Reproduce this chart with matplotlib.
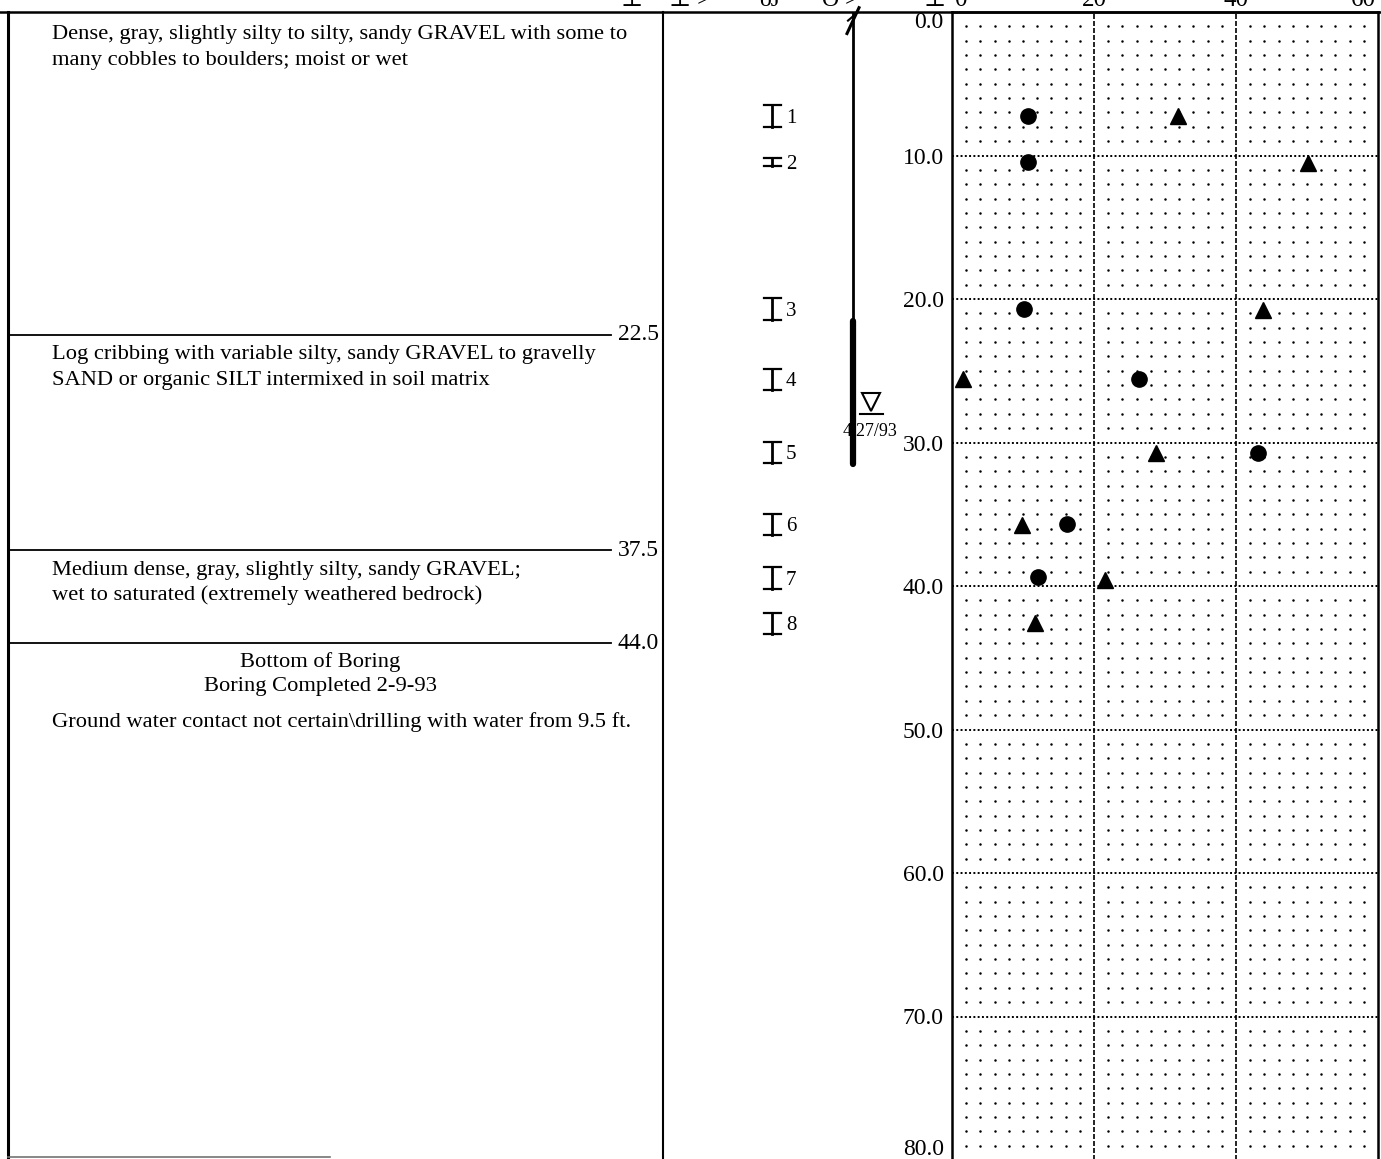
import numpy as np
import matplotlib.pyplot as plt
import matplotlib.transforms as mtransforms

# boring log data
layer_top = [0.0, 22.5, 37.5]
layer_bottom = [22.5, 37.5, 44.0]
layer_text = [
    ["Dense, gray, slightly silty to silty, sandy GRAVEL with some to",
     "many cobbles to boulders; moist or wet"],
    ["Log cribbing with variable silty, sandy GRAVEL to gravelly",
     "SAND or organic SILT intermixed in soil matrix"],
    ["Medium dense, gray, slightly silty, sandy GRAVEL;",
     "wet to saturated (extremely weathered bedrock)"],
]
boring_depth = 44.0

sample_no = [1, 2, 3, 4, 5, 6, 7, 8]
sample_depth = [7.25, 10.45, 20.7, 25.6, 30.7, 35.7, 39.45, 42.6]
sample_len = [1.5, 0.6, 1.5, 1.5, 1.5, 1.5, 1.5, 1.5]

circle_depth = [7.25, 10.45, 20.7, 25.6, 30.7, 35.7, 39.4]
circle_val = [10.7, 10.7, 10.2, 26.4, 43.1, 16.2, 12.1]
tri_depth = [7.25, 10.5, 20.8, 25.6, 30.75, 35.75, 39.6, 42.6]
tri_val = [31.8, 50.2, 43.8, 1.6, 28.7, 9.9, 21.5, 11.7]

pipe_depth = [0.0, 21.5, 31.5]
water_depth = 27.2
water_date = "4/27/93"

depth_ticks = [0, 10, 20, 30, 40, 50, 60, 70, 80]
value_ticks = [0, 20, 40, 60]

W, H = 1381, 1159
serif = ['Liberation Serif', 'DejaVu Serif']
plt.rcParams['font.family'] = serif

fig = plt.figure(figsize=(W / 100, H / 100), dpi=100)


def px(x0, y0, x1, y1):
    return [x0 / W, 1 - y1 / H, (x1 - x0) / W, (y1 - y0) / H]


ax = fig.add_axes(px(952, 12, 1378, 1160))
axl = fig.add_axes(px(0, 12, 952, 1160), sharey=ax)
axl.set_xlim(0, 952)
ax.set_xlim(0, 60)
ax.set_ylim(80, 0)
axl.axis('off')

# --- plot grid
gx, gy = np.meshgrid(np.arange(2, 60, 2), np.arange(1, 80, 1))
keep = (gx % 20 != 0) & (gy % 10 != 0)
ax.scatter(gx[keep], gy[keep], s=3.2, color='black', linewidths=0, zorder=1)
for v in value_ticks[1:-1]:
    ax.axvline(v, color='black', lw=1.2, ls=(0, (3, 1.2)), zorder=1)
for d in depth_ticks[1:-1]:
    ax.axhline(d, color='black', lw=1.4, ls=(0, (1, 1.2)), zorder=1)

ax.plot(circle_val, circle_depth, 'o', color='black', ms=11, zorder=3)
ax.plot(tri_val, tri_depth, '^', color='black', ms=11, zorder=3)

for s in ax.spines.values():
    s.set_linewidth(1.8)
ax.set_xticks([])
ax.set_yticks(depth_ticks)
ax.set_yticklabels([f"{d:.1f}" for d in depth_ticks], fontsize=17)
ax.tick_params(axis='y', length=0, pad=6)
labs = ax.get_yticklabels()
labs[0].set_va('top')
labs[-1].set_va('bottom')

# cut-off header labels
tr = mtransforms.blended_transform_factory(ax.transData, fig.transFigure)
for v in value_ticks:
    ha = 'left' if v == 0 else ('right' if v == 60 else 'center')
    off = 0.4 if v == 0 else (-0.3 if v == 60 else 0)
    ax.text(v + off, 1.0, str(v), transform=tr, ha=ha, va='center',
            fontsize=18, clip_on=False)
trf = fig.transFigure
for xp, s in [(632, "\u22a5"), (690, "\u22a5 >"), (770, "oJ"), (840, "O >"), (935, "\u22a5")]:
    fig.text(xp / W, 1.0, s, transform=trf, ha='center', va='center', fontsize=17)

# --- frame lines of the log
fig.add_artist(plt.Line2D([0, 1], [1 - 12 / H] * 2, color='black', lw=1.8))
fig.add_artist(plt.Line2D([8 / W] * 2, [0, 1 - 12 / H], color='black', lw=2.2))
fig.add_artist(plt.Line2D([663 / W] * 2, [0, 1 - 12 / H], color='black', lw=1.5))
fig.add_artist(plt.Line2D([8 / W, 330 / W], [1 - 1157 / H] * 2, color='0.45', lw=1.2))

# --- layers
for top, bot, lines in zip(layer_top, layer_bottom, layer_text):
    for i, t in enumerate(lines):
        dy = 0.2 if top == 0 else 0.0
        axl.text(52, top + 1.4 + dy + 1.75 * i, t, ha='left', va='center', fontsize=16.2)
    axl.plot([8, 611], [bot, bot], color='black', lw=1.3)
    axl.text(659, bot, f"{bot:.1f}", ha='right', va='center', fontsize=17)

axl.text(320, boring_depth + 1.3, "Bottom of Boring", ha='center', va='center', fontsize=16.2)
axl.text(320, boring_depth + 3.0, "Boring Completed 2-9-93", ha='center', va='center', fontsize=16.2)
axl.text(52, boring_depth + 5.5,
         "Ground water contact not certain\\drilling with water from 9.5 ft.",
         ha='left', va='center', fontsize=16.2)

# --- samples
for n, d, ln in zip(sample_no, sample_depth, sample_len):
    axl.plot([772, 772], [d - ln / 2, d + ln / 2], color='black', lw=2)
    for e in (d - ln / 2, d + ln / 2):
        axl.plot([764, 781], [e, e], color='black', lw=1.6)
    axl.text(786, d + 0.15, str(n), ha='left', va='center', fontsize=15)

# --- standpipe
axl.plot([853, 853], [pipe_depth[0], pipe_depth[1]], color='black', lw=2)
axl.plot([853, 853], [pipe_depth[1], pipe_depth[2]], color='black', lw=4.5,
         solid_capstyle='round')
axl.plot([847, 859], [1.5, -0.3], color='black', lw=2.2, clip_on=False)
axl.plot([848, 858], [0.6, 0.0], color='black', lw=1.5, clip_on=False)
axl.plot([871], [water_depth], marker='v', ms=13, mfc='white', mec='black', mew=1.5)
axl.plot([860, 883], [water_depth + 0.8] * 2, color='black', lw=1.5)
axl.text(870, water_depth + 2.05, water_date, ha='center', va='center', fontsize=13)

fig.savefig('out.png', dpi=100)
